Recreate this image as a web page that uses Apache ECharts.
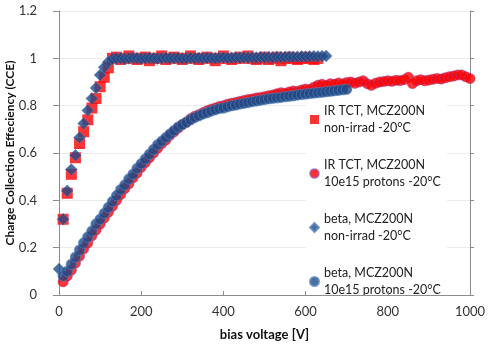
<!DOCTYPE html>
<html>
<head>
<meta charset="utf-8">
<script src="https://cdn.jsdelivr.net/npm/echarts@6/dist/echarts.min.js"></script>
<style>html,body{margin:0;padding:0;background:#fff}#c{width:488px;height:347px}</style>
</head>
<body>
<div id="c"></div>
<script>
// bias voltage grid [V]
var volts = [0,10,20,30,40,50,60,70,80,90,100,110,120,130,140,150,160,170,180,190,200,210,220,230,240,250,260,270,280,290,300,310,320,330,340,350,360,370,380,390,400,410,420,430,440,450,460,470,480,490,500,510,520,530,540,550,560,570,580,590,600,610,620,630,640,650,660,670,680,690,700,710,720,730,740,750,760,770,780,790,800,810,820,830,840,850,860,870,880,890,900,910,920,930,940,950,960,970,980,990,1000];

var seriesNames = [
  'IR TCT, MCZ200N\nnon-irrad -20°C',
  'IR TCT, MCZ200N\n10e15 protons -20°C',
  'beta, MCZ200N\nnon-irrad -20°C',
  'beta, MCZ200N\n10e15 protons -20°C'
];

// IR TCT non-irrad (starts at 10 V)
var irNonIrrad = [null,0.32,0.43,0.51,0.58,0.64,0.69,0.74,0.79,0.83,0.88,0.92,0.96,1.0,1.005,0.995,1.0,1.01,1.0,0.995,1.0,1.005,0.99,1.0,1.0,1.01,0.995,1.0,1.005,1.0,0.995,1.0,1.01,1.0,0.995,1.0,1.005,1.0,0.99,1.0,1.01,1.0,0.995,1.0,1.005,1.0,1.01,1.0,0.995,1.0,1.005,0.995,1.0,1.005,0.99,1.0,1.005,1.0,0.995,1.0,1.005,1.0,0.995,1.0];

// IR TCT 10e15 protons (starts at 10 V)
var irIrrad = [null,0.056,0.08,0.105,0.135,0.165,0.195,0.22,0.25,0.275,0.30,0.325,0.35,0.375,0.40,0.425,0.45,0.47,0.495,0.515,0.54,0.56,0.58,0.60,0.62,0.64,0.655,0.675,0.69,0.705,0.72,0.73,0.745,0.755,0.762,0.77,0.778,0.785,0.79,0.797,0.80,0.806,0.81,0.813,0.818,0.822,0.826,0.828,0.832,0.835,0.838,0.842,0.845,0.85,0.855,0.852,0.858,0.862,0.86,0.866,0.87,0.868,0.878,0.886,0.89,0.885,0.893,0.89,0.896,0.892,0.898,0.90,0.895,0.90,0.905,0.893,0.886,0.895,0.90,0.902,0.905,0.903,0.907,0.906,0.91,0.92,0.894,0.905,0.91,0.905,0.908,0.912,0.915,0.913,0.918,0.922,0.925,0.93,0.93,0.922,0.915];

// beta non-irrad (starts at 0 V)
var betaNonIrrad = [0.11,0.32,0.44,0.53,0.59,0.665,0.725,0.78,0.83,0.875,0.93,0.962,0.985,0.997,1.0,1.0,0.998,1.0,1.002,1.0,0.998,1.0,1.001,1.0,0.999,1.0,1.002,1.0,1.0,1.001,0.999,1.0,1.002,1.0,1.001,1.0,1.002,1.001,1.0,1.002,1.003,1.001,1.002,1.003,1.002,1.004,1.003,1.004,1.003,1.005,1.004,1.005,1.004,1.006,1.005,1.006,1.007,1.006,1.007,1.008,1.007,1.008,1.009,1.008,1.009,1.01];

// beta 10e15 protons (starts at 10 V)
var betaIrrad = [null,0.08,0.10,0.13,0.16,0.19,0.22,0.245,0.27,0.30,0.32,0.345,0.37,0.395,0.42,0.445,0.465,0.49,0.51,0.535,0.555,0.575,0.595,0.615,0.635,0.65,0.665,0.68,0.695,0.71,0.72,0.73,0.74,0.75,0.757,0.765,0.77,0.777,0.783,0.788,0.79,0.795,0.80,0.803,0.807,0.81,0.813,0.817,0.82,0.823,0.826,0.829,0.831,0.833,0.835,0.838,0.84,0.842,0.845,0.847,0.849,0.851,0.853,0.855,0.857,0.859,0.861,0.863,0.865,0.867,0.869];

var xTicks = [0,200,400,600,800,1000];
var yTicks = [0,0.2,0.4,0.6,0.8,1,1.2];

function pairs(vals){
  var out = [];
  for (var i = 0; i < vals.length; i++) {
    if (vals[i] != null) out.push([volts[i], vals[i]]);
  }
  return out;
}

var FONT = 'Lato';
var chart = echarts.init(document.getElementById('c'), null, {renderer:'canvas'});
chart.setOption({
  animation: false,
  backgroundColor: '#fff',
  textStyle: {fontFamily: FONT},
  grid: {left: 59, right: 18, top: 11, bottom: 52, containLabel: false, outerBoundsMode: 'none'},
  xAxis: {
    type: 'value', min: xTicks[0], max: xTicks[xTicks.length-1], interval: 200, z: 8,
    name: 'bias voltage [V]', nameLocation: 'middle', nameGap: 33, nameMoveOverlap: false,
    nameTextStyle: {fontFamily: FONT, fontWeight: 'bold', fontSize: 13, color: '#111'},
    axisLine: {show: true, lineStyle: {color: '#8c8c8c', width: 1}},
    axisTick: {show: true, inside: true, length: 4, lineStyle: {color: '#8c8c8c'}},
    axisLabel: {fontFamily: FONT, fontSize: 13, color: '#333', margin: 10,
      formatter: function (v) { return String(v); }},
    splitLine: {show: false}
  },
  yAxis: [{
    type: 'value', min: 0, max: 1.2, interval: 0.2,
    name: 'Charge Collection Effeciency (CCE)', nameLocation: 'middle', nameGap: 43, nameMoveOverlap: false,
    nameTextStyle: {fontFamily: FONT, fontWeight: 'bold', fontSize: 12, color: '#111'},
    axisLine: {show: true, lineStyle: {color: '#8c8c8c', width: 1}},
    axisTick: {show: true, length: 6, lineStyle: {color: '#8c8c8c'}},
    axisLabel: {fontFamily: FONT, fontSize: 13, color: '#333', margin: 22,
      formatter: function (v) { return String(+v.toFixed(1)); }},
    splitLine: {show: true, lineStyle: {color: '#ececec', width: 1}}
  }, {
    type: 'value', min: 0, max: 1.2, interval: 0.2, position: 'right',
    axisLine: {show: true, lineStyle: {color: '#8c8c8c', width: 1}},
    axisTick: {show: true, length: 4, lineStyle: {color: '#8c8c8c'}},
    axisLabel: {show: false},
    splitLine: {show: false}
  }],
  legend: {
    orient: 'vertical', left: 306, top: 94,
    backgroundColor: '#fff', padding: [0, 6, 0, 3], itemGap: 3,
    itemWidth: 9, itemHeight: 9,
    textStyle: {fontFamily: FONT, fontSize: 12.5, color: '#222', lineHeight: 17, padding: [17, 0, 0, 0]},
    data: [
      {name: seriesNames[0], icon: 'rect'},
      {name: seriesNames[1], icon: 'circle'},
      {name: seriesNames[2], icon: 'diamond'},
      {name: seriesNames[3], icon: 'circle'}
    ]
  },
  series: [
    {name: seriesNames[0], type: 'scatter', symbol: 'rect', symbolSize: 11,
     itemStyle: {color: '#ff0000'}, data: pairs(irNonIrrad), z: 2},
    {name: seriesNames[1], type: 'scatter', symbol: 'circle', symbolSize: 10.5,
     itemStyle: {color: '#ff0000', borderColor: 'rgba(110,80,200,0.6)', borderWidth: 0.7}, data: pairs(irIrrad), z: 3},
    {name: seriesNames[2], type: 'scatter', symbol: 'diamond', symbolSize: 12,
     itemStyle: {color: '#1f4a86', borderColor: '#5a86c0', borderWidth: 0.6}, data: pairs(betaNonIrrad), z: 4},
    {name: seriesNames[3], type: 'scatter', symbol: 'circle', symbolSize: 10.5,
     itemStyle: {color: '#1f4a86', borderColor: '#5a86c0', borderWidth: 0.7}, data: pairs(betaIrrad), z: 5}
  ]
});
</script>
</body>
</html>
